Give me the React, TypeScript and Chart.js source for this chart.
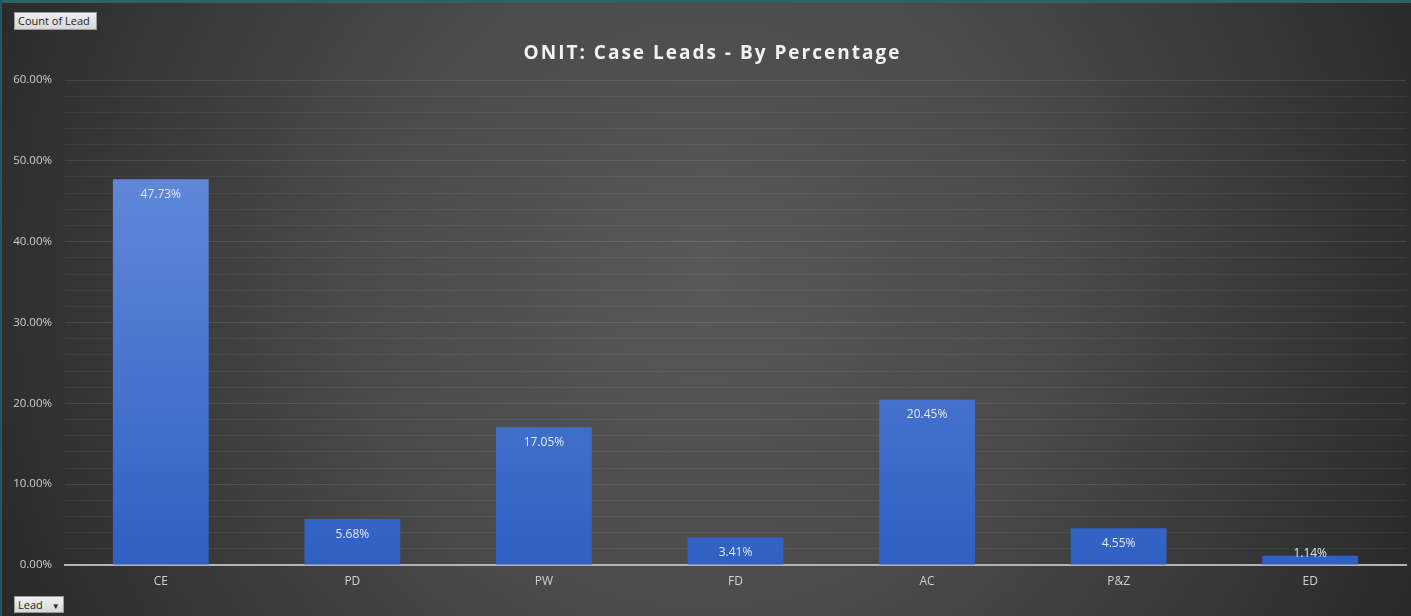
import React, { useEffect, useRef } from "react";
import { Chart, registerables } from "chart.js";

Chart.register(...registerables);

const categories = ["CE", "PD", "PW", "FD", "AC", "P&Z", "ED"];
const percentages = [47.73, 5.68, 17.05, 3.41, 20.45, 4.55, 1.14];
const yTickLabels = ["0.00%", "10.00%", "20.00%", "30.00%", "40.00%", "50.00%", "60.00%"];
const chartTitle = "ONIT: Case Leads - By Percentage";

const FONT = "'Open Sans', 'Noto Sans', sans-serif";

const bgPlugin = {
  id: "bgGradient",
  beforeDraw(chart: any) {
    const { ctx, width, height } = chart;
    ctx.save();
    const g = ctx.createRadialGradient(width * 0.5, height * 0.45, 0, width * 0.5, height * 0.45, width * 0.55);
    g.addColorStop(0, "#585858");
    g.addColorStop(0.45, "#4a4a4a");
    g.addColorStop(1, "#292929");
    ctx.fillStyle = g;
    ctx.fillRect(0, 0, width, height);
    ctx.restore();
  },
};

const titlePlugin = {
  id: "customTitle",
  afterDraw(chart: any) {
    const { ctx, width } = chart;
    ctx.save();
    ctx.font = `bold 19px ${FONT}`;
    (ctx as any).letterSpacing = "2px";
    ctx.fillStyle = "#f2f2f2";
    ctx.textAlign = "center";
    ctx.textBaseline = "middle";
    ctx.fillText(chartTitle, width / 2 + 7, 54);
    ctx.restore();
  },
};

const labelPlugin = {
  id: "barLabels",
  afterDatasetsDraw(chart: any) {
    const { ctx } = chart;
    const meta = chart.getDatasetMeta(0);
    const base = chart.scales.y.getPixelForValue(0);
    ctx.save();
    ctx.font = `12px ${FONT}`;
    ctx.fillStyle = "#e4e8f0";
    ctx.textAlign = "center";
    ctx.textBaseline = "middle";
    meta.data.forEach((bar: any, i: number) => {
      const y = Math.min(bar.y + 15, base - 11);
      ctx.fillText(percentages[i].toFixed(2) + "%", bar.x, y);
    });
    ctx.restore();
  },
};

function ChartCanvas() {
  const ref = useRef<HTMLCanvasElement | null>(null);
  useEffect(() => {
    if (!ref.current) return;
    const chart = new Chart(ref.current, {
      type: "bar",
      data: {
        labels: categories,
        datasets: [
          {
            data: percentages,
            backgroundColor: (c: any) => {
              const area = c.chart.chartArea;
              if (!area) return "#3f6fce";
              const g = c.chart.ctx.createLinearGradient(0, area.top, 0, area.bottom);
              g.addColorStop(0, "#6d8fdc");
              g.addColorStop(0.3, "#5a83d6");
              g.addColorStop(1, "#2e60c3");
              return g;
            },
            borderWidth: 0,
            categoryPercentage: 1,
            barPercentage: 0.5,
          },
        ],
      },
      options: {
        animation: false,
        responsive: false,
        maintainAspectRatio: false,
        layout: { padding: { top: 80, right: 5, left: 0, bottom: 0 } },
        plugins: {
          legend: { display: false },
          title: { display: false },
          tooltip: { enabled: false },
        },
        scales: {
          x: {
            grid: { display: false, drawTicks: false },
            border: { display: true, color: "#b4b4b4", width: 2 },
            ticks: { color: "#d0d0d0", font: { family: FONT, size: 12 }, padding: 9 },
            afterFit: (s: any) => {
              s.height = 51;
            },
          },
          y: {
            min: 0,
            max: 60,
            ticks: {
              stepSize: 2,
              autoSkip: false,
              color: "#cfcfcf",
              font: { family: FONT, size: 11.5 },
              padding: 13,
              callback: (v: any) => {
                const n = Number(v);
                return n % 10 === 0 ? yTickLabels[n / 10] : "";
              },
            },
            grid: {
              drawTicks: false,
              color: (c: any) =>
                c.tick && c.tick.value % 10 === 0 ? "rgba(255,255,255,0.10)" : "rgba(255,255,255,0.05)",
              lineWidth: 1,
            },
            border: { display: false },
            afterFit: (s: any) => {
              s.width = 65;
            },
          },
        },
      },
      plugins: [bgPlugin, titlePlugin, labelPlugin],
    } as any);
    return () => chart.destroy();
  }, []);
  return <canvas ref={ref} width={1411} height={616} style={{ display: "block", width: 1411, height: 616 }} />;
}

const buttonStyle: React.CSSProperties = {
  position: "absolute",
  background: "linear-gradient(#f0f0f0, #d8d8d8)",
  border: "1px solid #9a9a9a",
  color: "#222",
  fontFamily: FONT,
  fontSize: 11,
  lineHeight: "15px",
  padding: "0 3px",
  boxSizing: "border-box",
};

export default function App() {
  useEffect(() => {
    document.body.style.margin = "0";
    document.body.style.background = "#262626";
  }, []);
  return (
    <div style={{ position: "fixed", left: 0, top: 0, width: 1411, height: 616, overflow: "hidden" }}>
      <ChartCanvas />
      <div style={{ position: "absolute", left: 0, top: 0, width: 1411, height: 3, background: "#2c6466" }} />
      <div style={{ position: "absolute", left: 0, top: 0, width: 2, height: 616, background: "#1d5866" }} />
      <div style={{ ...buttonStyle, left: 14, top: 12, width: 83, height: 18 }}>Count of Lead</div>
      <div style={{ ...buttonStyle, left: 14, top: 596, width: 50, height: 17 }}>
        Lead <span style={{ fontSize: 8, marginLeft: 6 }}>▼</span>
      </div>
    </div>
  );
}
